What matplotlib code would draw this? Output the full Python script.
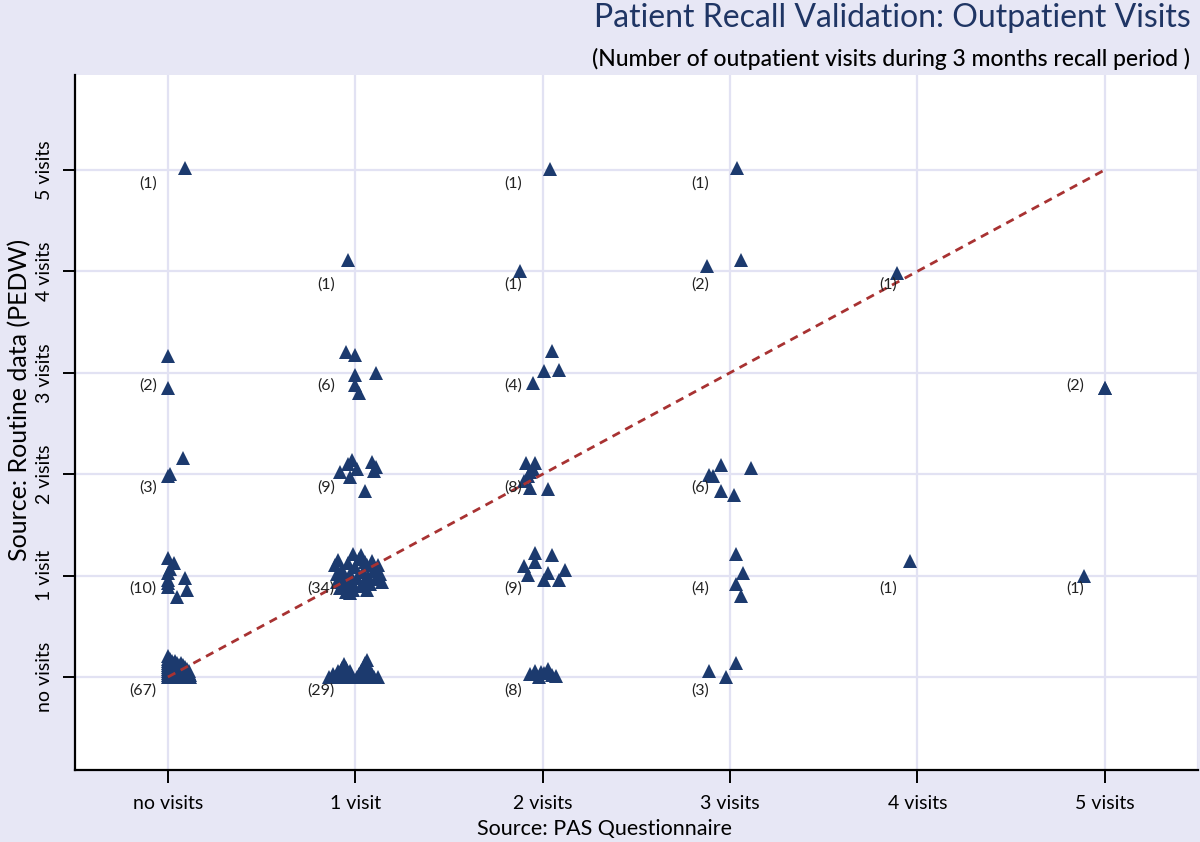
import numpy as np
import matplotlib
matplotlib.use('Agg')
import matplotlib.pyplot as plt

plt.rcParams['font.family'] = ['Lato', 'DejaVu Sans']

# categories
cats = ['no visits', '1 visit', '2 visits', '3 visits', '4 visits', '5 visits']

# jittered points: PAS questionnaire (x) vs routine data PEDW (y), grouped by cell
pas = [
    # (0,0) n=67
    0.00, 0.01, 0.02, 0.03, 0.04, 0.05, 0.06, 0.07, 0.08, 0.09, 0.10, 0.11, 0.12,
    0.00, 0.015, 0.03, 0.045, 0.06, 0.075, 0.09, 0.105, 0.12,
    0.00, 0.02, 0.04, 0.06, 0.08, 0.10, 0.11,
    0.00, 0.01, 0.03, 0.05, 0.07, 0.09, 0.11,
    0.00, 0.02, 0.04, 0.06, 0.08, 0.10,
    0.00, 0.01, 0.03, 0.05, 0.07, 0.09,
    0.00, 0.02, 0.04, 0.06, 0.08,
    0.00, 0.01, 0.03, 0.05, 0.07,
    0.00, 0.02, 0.04,
    0.00, 0.01,
    0.00,
    0.005, 0.035, 0.085,
    # (0,1) n=10
    0.00, 0.03, 0.00, 0.00, 0.00, 0.09, 0.10, 0.05, 0.00, 0.01,
    # (0,2) n=3
    0.00, 0.08, 0.01,
    # (0,3) n=2
    0.00, 0.00,
    # (0,5) n=1
    0.09,
    # (1,0) n=29
    0.86, 0.89, 0.92, 0.95, 0.98, 1.01, 1.04, 1.07, 1.10, 1.12,
    0.88, 0.93, 0.97, 1.02, 1.06, 1.09,
    0.91, 0.94, 0.97, 1.03, 1.05, 1.08,
    0.93, 0.95, 1.04, 1.07,
    0.94, 1.05,
    1.06,
    # (1,1) n=34
    0.89, 0.90, 0.90, 0.91, 0.92, 0.93, 0.94, 0.95, 0.95, 0.96, 0.97, 0.98,
    0.99, 0.99, 1.00, 1.01, 1.02, 1.03, 1.03, 1.04, 1.05, 1.06, 1.06, 1.07,
    1.08, 1.09, 1.10, 1.11, 1.12, 1.13, 1.14, 0.92, 0.97, 1.05,
    # (1,2) n=9
    0.92, 0.96, 0.98, 0.97, 1.01, 1.05, 1.09, 1.11, 1.10,
    # (1,3) n=6
    0.95, 1.00, 1.00, 1.00, 1.02, 1.11,
    # (1,4) n=1
    0.96,
    # (2,0) n=8
    1.93, 1.96, 1.98, 2.01, 2.03, 2.05, 2.07, 1.99,
    # (2,1) n=9
    1.96, 2.05, 1.96, 1.90, 1.92, 2.03, 2.01, 2.09, 2.12,
    # (2,2) n=8
    1.91, 1.96, 1.92, 1.90, 1.93, 2.03, 1.95, 1.93,
    # (2,3) n=4
    2.05, 2.01, 2.09, 1.95,
    # (2,4) n=1
    1.88,
    # (2,5) n=1
    2.04,
    # (3,0) n=3
    2.89, 3.03, 2.98,
    # (3,1) n=4
    3.03, 3.07, 3.03, 3.06,
    # (3,2) n=6
    2.89, 2.95, 2.91, 2.95, 3.02, 3.11,
    # (3,4) n=2
    2.88, 3.06,
    # (3,5) n=1
    3.04,
    # (4,1), (4,4)
    3.96, 3.89,
    # (5,1), (5,3) n=2
    4.89, 5.00, 5.00,
]

pedw = [
    # (0,0)
    0.00, 0.00, 0.00, 0.00, 0.00, 0.00, 0.00, 0.00, 0.00, 0.00, 0.00, 0.00, 0.00,
    0.02, 0.02, 0.02, 0.02, 0.02, 0.02, 0.02, 0.02, 0.02,
    0.04, 0.04, 0.04, 0.04, 0.04, 0.04, 0.04,
    0.06, 0.06, 0.06, 0.06, 0.06, 0.06, 0.06,
    0.08, 0.08, 0.08, 0.08, 0.08, 0.08,
    0.10, 0.10, 0.10, 0.10, 0.10, 0.10,
    0.12, 0.12, 0.12, 0.12, 0.12,
    0.14, 0.14, 0.14, 0.14, 0.14,
    0.16, 0.16, 0.16,
    0.18, 0.18,
    0.21,
    0.03, 0.03, 0.03,
    # (0,1)
    1.17, 1.12, 1.03, 0.96, 0.89, 0.98, 0.86, 0.79, 0.93, 1.07,
    # (0,2)
    1.98, 2.16, 2.00,
    # (0,3)
    3.17, 2.85,
    # (0,5)
    5.02,
    # (1,0)
    0.00, 0.00, 0.00, 0.00, 0.00, 0.00, 0.00, 0.00, 0.00, 0.00,
    0.03, 0.03, 0.03, 0.03, 0.03, 0.03,
    0.06, 0.06, 0.06, 0.06, 0.06, 0.06,
    0.09, 0.09, 0.09, 0.09,
    0.13, 0.14,
    0.17,
    # (1,1)
    1.10, 1.02, 0.94, 1.15, 0.88, 1.06, 0.98, 0.90, 0.84, 1.12, 1.02, 0.94,
    1.21, 0.86, 1.08, 0.98, 1.16, 1.20, 0.90, 1.04, 0.96, 1.10, 0.86, 1.00,
    0.92, 1.14, 1.05, 0.97, 1.10, 1.02, 0.94, 0.96, 0.83, 1.13,
    # (1,2)
    2.02, 2.10, 2.14, 1.97, 2.05, 1.83, 2.12, 2.07, 2.03,
    # (1,3)
    3.20, 3.18, 2.98, 2.88, 2.80, 3.00,
    # (1,4)
    4.11,
    # (2,0)
    0.03, 0.06, 0.00, 0.04, 0.08, 0.02, 0.01, 0.05,
    # (2,1)
    1.22, 1.20, 1.13, 1.09, 1.01, 1.03, 0.96, 0.96, 1.06,
    # (2,2)
    2.11, 2.11, 1.98, 1.93, 1.86, 1.85, 2.05, 2.02,
    # (2,3)
    3.21, 3.02, 3.03, 2.90,
    # (2,4)
    4.00,
    # (2,5)
    5.01,
    # (3,0)
    0.06, 0.14, 0.00,
    # (3,1)
    1.21, 1.03, 0.92, 0.80,
    # (3,2)
    1.99, 2.09, 1.98, 1.83, 1.79, 2.06,
    # (3,4)
    4.05, 4.11,
    # (3,5)
    5.02,
    # (4,1), (4,4)
    1.14, 3.98,
    # (5,1), (5,3)
    1.00, 2.85, 2.85,
]

# cell counts shown as labels
lab_x = [0, 0, 0, 0, 0, 1, 1, 1, 1, 1, 2, 2, 2, 2, 2, 2, 3, 3, 3, 3, 3, 4, 4, 5, 5]
lab_y = [0, 1, 2, 3, 5, 0, 1, 2, 3, 4, 0, 1, 2, 3, 4, 5, 0, 1, 2, 4, 5, 1, 4, 1, 3]
lab_n = [67, 10, 3, 2, 1, 29, 34, 9, 6, 1, 8, 9, 8, 4, 1, 1, 3, 4, 6, 2, 1, 1, 1, 1, 2]

bg = '#e7e7f5'
navy = '#1c3a6e'
gridc = '#e2e2f3'

fig = plt.figure(figsize=(12, 8.42), dpi=100, facecolor=bg)
ax = fig.add_axes([0.0625, 0.0855, 0.9355, 0.8255])
ax.set_facecolor('white')

ax.set_xlim(-0.496, 5.496)
ax.set_ylim(-0.917, 5.937)

ax.set_xticks(range(6))
ax.set_yticks(range(6))
ax.set_xticklabels(cats, fontsize=14)
ax.set_yticklabels(cats, fontsize=14, rotation=90, va='center')
ax.grid(True, color=gridc, lw=1.6, zorder=0)
ax.axvline(5.496, color=gridc, lw=1.6, zorder=0)
ax.set_axisbelow(True)

for s in ['top', 'right']:
    ax.spines[s].set_visible(False)
for s in ['left', 'bottom']:
    ax.spines[s].set_linewidth(1.6)
    ax.spines[s].set_color('black')
ax.tick_params(axis='both', direction='out', length=9, width=1.4, colors='black')
ax.tick_params(axis='x', pad=9)
ax.tick_params(axis='y', pad=7)

ax.plot(pas, pedw, ls='none', marker='^', markersize=10.5, color=navy,
        markeredgewidth=0, zorder=3)

# line of agreement, drawn over the markers
ax.plot([0, 5], [0, 5], color='#a83232', lw=2, ls=(0, (3, 2.2)), zorder=4)

for x, y, n in zip(lab_x, lab_y, lab_n):
    dx = -0.06 if x == 0 else -0.11
    ax.text(x + dx, y - 0.13, '(%d)' % n, ha='right', va='center',
            fontsize=11.5, color='#222222', zorder=5)

fig.text(0.992, 0.979, 'Patient Recall Validation: Outpatient Visits', ha='right',
         va='center', fontsize=23, color='#1f3564')
fig.text(0.992, 0.93, '(Number of outpatient visits during 3 months recall period )',
         ha='right', va='center', fontsize=16.5, color='black', fontweight='medium')
fig.text(0.504, 0.015, 'Source: PAS Questionnaire', ha='center', va='center',
         fontsize=15.5)
fig.text(0.016, 0.525, 'Source: Routine data (PEDW)', ha='center', va='center',
         rotation=90, fontsize=18)

fig.savefig('out.png', dpi=100, facecolor=bg)
